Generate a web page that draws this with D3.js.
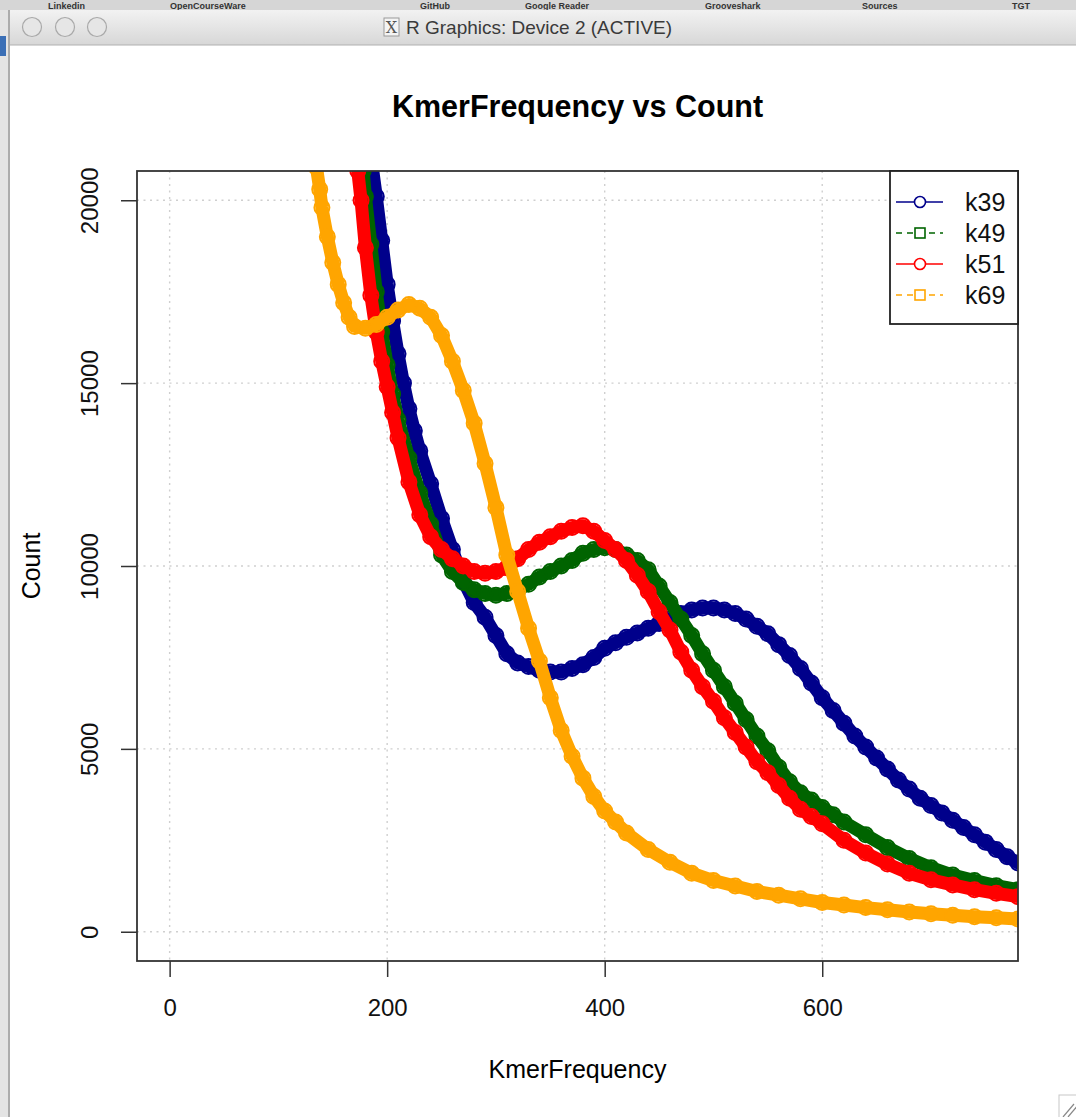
<!DOCTYPE html>
<html>
<head>
<meta charset="utf-8">
<script src="https://cdn.jsdelivr.net/npm/d3@7"></script>
<style>
body { margin: 0; background: #fff; }
svg { display: block; }
</style>
</head>
<body>
<script>
// ticks des axes
var xTicks = [0, 200, 400, 600];
var yTicks = [0, 5000, 10000, 15000, 20000];

// noms, couleurs et styles des series
var seriesNames = ["k39", "k49", "k51", "k69"];
var seriesColors = ["darkblue", "darkgreen", "red", "orange"];
var seriesDash = [null, "6,5", null, "6,5"];
var legendShapes = ["circle", "square", "circle", "square"];

// k39
var k39Freq = [185,190,195,200,205,210,215,220,225,230,240,250,260,270,280,290,300,310,320,330,340,350,360,370,380,390,400,410,420,430,440,450,460,470,480,490,500,510,520,530,540,550,560,570,580,590,600,610,620,630,640,650,660,670,680,690,700,710,720,730,740,750,760,770,780];
var k39Count = [21200,20100,18900,17700,16700,15800,15000,14300,13700,13150,12250,11300,10450,9600,9000,8600,8100,7600,7350,7250,7150,7100,7100,7200,7300,7500,7750,7900,8050,8170,8300,8430,8550,8700,8800,8850,8850,8800,8700,8550,8350,8150,7850,7550,7200,6800,6400,6050,5700,5350,5050,4750,4450,4150,3900,3650,3450,3250,3050,2850,2650,2450,2250,2050,1880];

// k49
var k49Freq = [178,180,185,190,195,200,205,210,220,230,240,250,260,270,280,290,300,310,320,330,340,350,360,370,380,390,400,410,420,430,440,450,460,470,480,490,500,510,520,530,540,550,560,570,580,590,600,610,620,640,660,680,700,720,740,760,780];
var k49Count = [20800,20100,18800,17500,16400,15500,14700,14000,12950,12000,11150,10300,9850,9550,9350,9250,9200,9250,9350,9500,9700,9850,10000,10150,10350,10450,10500,10450,10300,10150,9900,9450,9000,8550,8100,7600,7150,6700,6250,5800,5350,4950,4500,4100,3800,3600,3400,3200,3000,2650,2300,2000,1750,1550,1400,1260,1150];

// k51
var k51Freq = [173,176,180,185,190,195,200,205,210,220,230,240,250,260,270,280,290,300,310,320,330,340,350,360,370,380,390,400,410,420,430,440,450,460,470,480,490,500,510,520,530,540,550,560,570,580,590,600,620,640,660,680,700,720,740,760,780];
var k51Count = [20800,20000,18700,17400,16400,15600,14900,14200,13500,12300,11400,10800,10450,10200,10000,9850,9800,9850,9950,10200,10450,10650,10800,10950,11050,11100,10950,10700,10450,10150,9750,9300,8750,8250,7650,7150,6700,6300,5850,5450,5050,4650,4350,4000,3650,3350,3150,2950,2500,2150,1850,1600,1420,1280,1150,1050,960];

// k69
var k69Freq = [135,138,140,145,150,155,160,165,170,180,190,200,210,220,230,240,250,260,270,280,290,300,310,320,330,340,350,360,370,380,390,400,410,420,440,460,480,500,520,540,560,580,600,620,640,660,680,700,720,740,760,780];
var k69Count = [20900,20300,19800,19000,18300,17700,17200,16800,16550,16500,16600,16800,17000,17150,17050,16800,16300,15600,14800,13900,12800,11600,10300,9300,8300,7400,6400,5500,4800,4200,3700,3300,3000,2700,2250,1900,1600,1400,1250,1100,1000,900,800,730,660,600,540,490,450,410,380,350];

var seriesFreq = [k39Freq, k49Freq, k51Freq, k69Freq];
var seriesCount = [k39Count, k49Count, k51Count, k69Count];

// barre de titre de la fenetre R (mac)
function drawWindow(svg, width, height)
{
	var bm = svg.append("g");
	bm.append("rect").attr("x", 0).attr("y", 0).attr("width", width).attr("height", 12).attr("fill", "#d6d6d6");
	var marks = [["Linkedin", 48], ["OpenCourseWare", 170], ["GitHub", 420], ["Google Reader", 525], ["Grooveshark", 705], ["Sources", 862], ["TGT", 1012]];
	bm.selectAll("text")
		.data(marks)
		.enter().append("text")
		.attr("x", function(d) { return d[1]; })
		.attr("y", 8.5)
		.attr("font-family", "Liberation Sans, Arial, sans-serif")
		.attr("font-size", 9)
		.attr("font-weight", "bold")
		.attr("fill", "#333")
		.text(function(d) { return d[0]; });

	// bord gauche
	svg.append("rect").attr("x", 0).attr("y", 10).attr("width", 10).attr("height", height - 10).attr("fill", "#e4e4e4");
	svg.append("rect").attr("x", 0).attr("y", 36).attr("width", 6).attr("height", 20).attr("fill", "#3b6fb6");
	svg.append("line").attr("x1", 9).attr("x2", 9).attr("y1", 10).attr("y2", height).attr("stroke", "#9a9a9a").attr("stroke-width", 1.5);

	var grad = svg.append("defs").append("linearGradient")
		.attr("id", "tb").attr("x1", 0).attr("x2", 0).attr("y1", 0).attr("y2", 1);
	grad.append("stop").attr("offset", "0%").attr("stop-color", "#f2f2f2");
	grad.append("stop").attr("offset", "100%").attr("stop-color", "#d7d7d7");

	svg.append("rect").attr("x", 10).attr("y", 10).attr("width", width - 10).attr("height", 35).attr("fill", "url(#tb)");
	svg.append("line").attr("x1", 10).attr("x2", width).attr("y1", 45).attr("y2", 45).attr("stroke", "#b0b0b0");

	svg.selectAll("circle.light")
		.data([32, 65, 97])
		.enter().append("circle")
		.attr("class", "light")
		.attr("cx", function(d) { return d; })
		.attr("cy", 27)
		.attr("r", 9.5)
		.attr("fill", "#e6e6e6")
		.attr("stroke", "#a9a9a9")
		.attr("stroke-width", 1.2);

	// icone X11
	svg.append("rect").attr("x", 384).attr("y", 18).attr("width", 15).attr("height", 18)
		.attr("fill", "#f4f4f4").attr("stroke", "#9a9a9a");
	svg.append("text").attr("x", 391.5).attr("y", 33).attr("text-anchor", "middle")
		.attr("font-family", "DejaVu Serif, serif").attr("font-size", 16).attr("fill", "#555").text("X");

	svg.append("text")
		.attr("x", 406).attr("y", 34)
		.attr("font-family", "Liberation Sans, Arial, sans-serif")
		.attr("font-size", 19)
		.attr("fill", "#3a3a3a")
		.text("R Graphics: Device 2 (ACTIVE)");

	// poignee de redimensionnement
	var grip = svg.append("g");
	grip.append("rect").attr("x", 1059).attr("y", 1095).attr("width", 20).attr("height", 25).attr("fill", "none").attr("stroke", "#c8c8c8");
	grip.selectAll("line")
		.data([0, 5])
		.enter().append("line")
		.attr("x1", function(d) { return 1063 + d; }).attr("y1", 1117)
		.attr("x2", function(d) { return 1074 + d; }).attr("y2", 1104)
		.attr("stroke", "#888").attr("stroke-width", 1.2);
}

function drawChart(boxName)
{
	var width = 1076,
		height = 1117;

	var svg = d3.select(boxName)
		.append("svg")
		.attr("width", width)
		.attr("height", height);

	drawWindow(svg, width, height);

	// zone du graphique (xlim 0..750, ylim 0..20000 avec 4% de marge comme R)
	var left = 137, right = 1018, top = 171, bottom = 961;

	var x = d3.scaleLinear()
		.domain([-30, 780])
		.range([left, right]);

	var y = d3.scaleLinear()
		.domain([-800, 20800])
		.range([bottom, top]);

	var font = "Liberation Sans, Arial, Helvetica, sans-serif";

	// grille en pointilles
	var grid = svg.append("g").attr("stroke", "#cfcfcf").attr("stroke-width", 1.4).attr("stroke-dasharray", "2,4.5");
	grid.selectAll("line.v")
		.data(xTicks)
		.enter().append("line")
		.attr("class", "v")
		.attr("x1", function(d) { return x(d); }).attr("x2", function(d) { return x(d); })
		.attr("y1", top).attr("y2", bottom);
	grid.selectAll("line.h")
		.data(yTicks)
		.enter().append("line")
		.attr("class", "h")
		.attr("x1", left).attr("x2", right)
		.attr("y1", function(d) { return y(d); }).attr("y2", function(d) { return y(d); });

	// clip sur la zone du graphique
	svg.append("defs").append("clipPath")
		.attr("id", "plotclip")
		.append("rect")
		.attr("x", left).attr("y", top)
		.attr("width", right - left).attr("height", bottom - top);

	var plot = svg.append("g").attr("clip-path", "url(#plotclip)");

	var line = d3.line()
		.x(function(d) { return x(d[0]); })
		.y(function(d) { return y(d[1]); });

	// chaque serie : une bande epaisse + des cercles (pch = 1)
	seriesNames.forEach(function(name, i)
	{
		var pts = d3.zip(seriesFreq[i], seriesCount[i]);
		var g = plot.append("g").attr("class", name);

		g.append("path")
			.datum(pts)
			.attr("fill", "none")
			.attr("stroke", seriesColors[i])
			.attr("stroke-width", 13)
			.attr("stroke-linejoin", "round")
			.attr("stroke-linecap", "round")
			.attr("d", line);

		g.selectAll("circle")
			.data(pts)
			.enter().append("circle")
			.attr("cx", function(d) { return x(d[0]); })
			.attr("cy", function(d) { return y(d[1]); })
			.attr("r", 7.5)
			.attr("fill", "none")
			.attr("stroke", seriesColors[i])
			.attr("stroke-width", 2);
	});

	// axe x
	var xAxis = svg.append("g")
		.attr("transform", "translate(0," + bottom + ")")
		.call(d3.axisBottom(x).tickValues(xTicks).tickSize(16).tickSizeOuter(0).tickPadding(22));
	xAxis.select(".domain").remove();
	xAxis.selectAll("line").attr("stroke", "#333").attr("stroke-width", 1.5);
	xAxis.selectAll("text").attr("font-family", font).attr("font-size", 24).attr("fill", "#111");

	// axe y, etiquettes paralleles a l'axe (sans separateur de milliers)
	var yAxis = svg.append("g")
		.attr("transform", "translate(" + left + ",0)")
		.call(d3.axisLeft(y).tickValues(yTicks).tickFormat(d3.format("d")).tickSize(16).tickSizeOuter(0));
	yAxis.select(".domain").remove();
	yAxis.selectAll("line").attr("stroke", "#333").attr("stroke-width", 1.5);
	yAxis.selectAll("text")
		.attr("x", 0).attr("y", 0)
		.attr("dy", "0.35em")
		.attr("text-anchor", "middle")
		.attr("transform", "translate(-47,0) rotate(-90)")
		.attr("font-family", font).attr("font-size", 24).attr("fill", "#111");

	// boite du graphique
	svg.append("rect")
		.attr("x", left).attr("y", top)
		.attr("width", right - left).attr("height", bottom - top)
		.attr("fill", "none")
		.attr("stroke", "#333")
		.attr("stroke-width", 1.8);

	// titres
	svg.append("text")
		.attr("x", (left + right) / 2).attr("y", 117)
		.attr("text-anchor", "middle")
		.attr("font-family", font).attr("font-size", 30.5).attr("font-weight", "bold")
		.text("KmerFrequency vs Count");

	svg.append("text")
		.attr("x", (left + right) / 2).attr("y", 1078)
		.attr("text-anchor", "middle")
		.attr("font-family", font).attr("font-size", 25)
		.text("KmerFrequency");

	svg.append("text")
		.attr("transform", "translate(40," + ((top + bottom) / 2) + ") rotate(-90)")
		.attr("text-anchor", "middle")
		.attr("font-family", font).attr("font-size", 25)
		.text("Count");

	// legende en haut a droite
	var legW = 128, legH = 153;
	var leg = svg.append("g").attr("transform", "translate(" + (right - legW) + "," + top + ")");
	leg.append("rect")
		.attr("width", legW).attr("height", legH)
		.attr("fill", "#fff")
		.attr("stroke", "#222")
		.attr("stroke-width", 1.8);

	var rows = leg.selectAll("g.row")
		.data(seriesNames)
		.enter().append("g")
		.attr("class", "row")
		.attr("transform", function(d, i) { return "translate(0," + (31 + i * 31) + ")"; });

	rows.append("line")
		.attr("x1", 6).attr("x2", 53)
		.attr("stroke", function(d, i) { return seriesColors[i]; })
		.attr("stroke-width", 1.6)
		.attr("stroke-dasharray", function(d, i) { return seriesDash[i]; });

	rows.each(function(d, i)
	{
		var r = d3.select(this);
		if (legendShapes[i] == "circle")
			r.append("circle").attr("cx", 30).attr("cy", 0).attr("r", 5.5)
				.attr("fill", "#fff").attr("stroke", seriesColors[i]).attr("stroke-width", 1.6);
		else
			r.append("rect").attr("x", 25).attr("y", -5).attr("width", 10).attr("height", 10)
				.attr("fill", "#fff").attr("stroke", seriesColors[i]).attr("stroke-width", 1.6);
	});

	rows.append("text")
		.attr("x", 75).attr("dy", "0.35em")
		.attr("font-family", font).attr("font-size", 25)
		.attr("fill", "#111")
		.text(function(d) { return d; });
}

drawChart("body");
</script>
</body>
</html>
